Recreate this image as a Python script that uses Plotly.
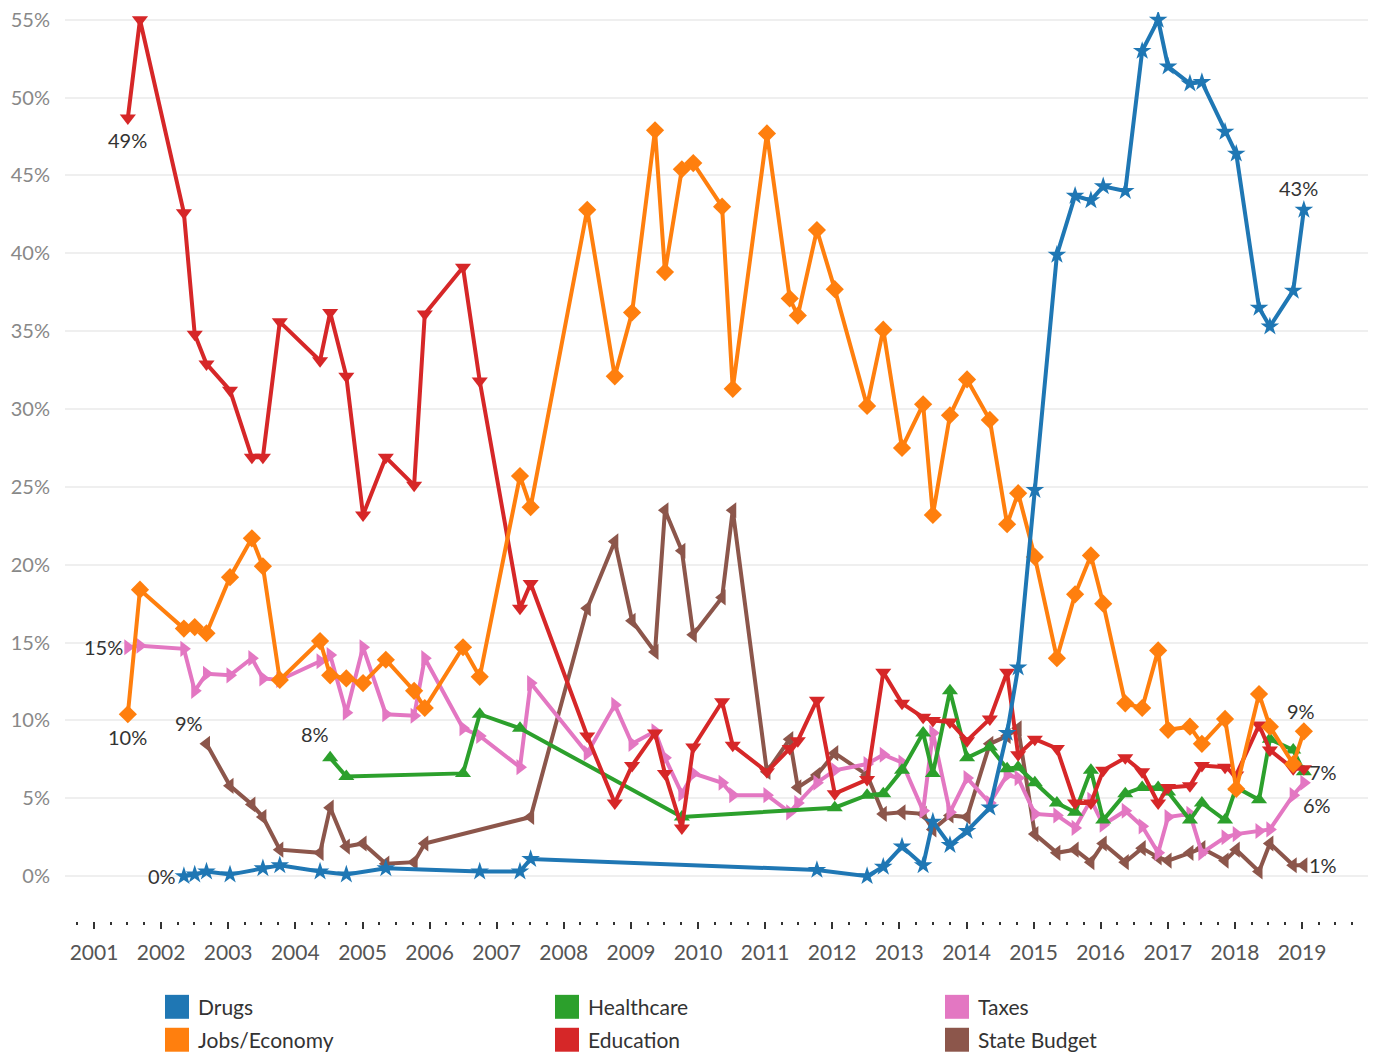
import math
import plotly.graph_objects as go

# poll dates (shared by all series, None where a topic was not reported)
poll_dates = [
    "2001-07-04", "2001-09-08", "2002-05-05", "2002-07-03", "2002-09-05",
    "2003-01-11", "2003-05-10", "2003-07-09", "2003-10-09",
    "2004-05-15", "2004-07-09", "2004-10-05",
    "2005-01-04", "2005-05-08", "2005-10-09", "2005-12-06",
    "2006-07-02", "2006-10-01",
    "2007-05-08", "2007-07-05",
    "2008-05-08", "2008-10-05",
    "2009-01-07", "2009-05-12", "2009-07-05", "2009-10-05", "2009-12-06",
    "2010-05-12", "2010-07-09",
    "2011-01-11", "2011-05-15", "2011-06-28", "2011-10-10",
    "2012-01-15", "2012-07-09", "2012-10-05",
    "2013-01-15", "2013-05-10", "2013-07-02", "2013-10-03",
    "2014-01-04", "2014-05-08", "2014-08-10", "2014-10-09",
    "2015-01-08", "2015-05-08", "2015-08-15", "2015-11-09",
    "2016-01-15", "2016-05-14", "2016-08-14", "2016-11-09",
    "2017-01-02", "2017-05-01", "2017-07-05", "2017-11-08",
    "2018-01-08", "2018-05-12", "2018-07-10", "2018-11-14",
    "2019-01-11",
]

drugs = [
    None, None, 0.0, 0.1, 0.3,
    0.1, None, 0.5, 0.7,
    0.3, None, 0.1,
    None, 0.5, None, None,
    None, 0.3,
    0.3, 1.1,
    None, None,
    None, None, None, None, None,
    None, None,
    None, None, None, 0.4,
    None, 0.0, 0.6,
    1.9, 0.7, 3.5, 2.0,
    2.9, 4.4, 9.2, 13.4,
    24.8, 39.9, 43.7, 43.4,
    44.3, 44.0, 53.0, 55.0,
    52.0, 50.9, 51.0, 47.8,
    46.4, 36.5, 35.3, 37.6,
    42.8,
]

jobs_economy = [
    10.4, 18.4, 15.9, 16.0, 15.6,
    19.2, 21.7, 19.9, 12.6,
    15.1, 12.9, 12.7,
    12.4, 13.9, 11.9, 10.8,
    14.7, 12.8,
    25.7, 23.7,
    42.8, 32.1,
    36.2, 47.9, 38.8, 45.4, 45.8,
    43.0, 31.3,
    47.7, 37.1, 36.0, 41.5,
    37.7, 30.2, 35.1,
    27.5, 30.3, 23.2, 29.6,
    31.9, 29.3, 22.6, 24.6,
    20.5, 14.0, 18.1, 20.6,
    17.5, 11.1, 10.8, 14.5,
    9.4, 9.6, 8.5, 10.1,
    5.6, 11.7, 9.6, 7.2,
    9.3,
]

healthcare = [
    None, None, None, None, None,
    None, None, None, None,
    None, 7.6, 6.4,
    None, None, None, None,
    6.6, 10.4,
    9.5, None,
    None, None,
    None, None, None, 3.8, None,
    None, None,
    None, None, None, None,
    4.4, 5.2, 5.3,
    6.8, 9.2, 6.6, 11.9,
    7.6, 8.3, 6.9, 7.0,
    6.0, 4.7, 4.1, 6.8,
    3.6, 5.3, 5.7, 5.7,
    5.4, 3.6, 4.7, 3.6,
    5.7, 4.9, 8.8, 8.1,
    6.7,
]

education = [
    48.7, 55.0, 42.6, 34.8, 32.9,
    31.2, 26.9, 26.9, 35.6,
    33.1, 36.2, 32.1,
    23.2, 26.9, 25.1, 36.1,
    39.1, 31.8,
    17.2, 18.8,
    9.0, 4.7,
    7.1, 9.2, 6.6, 3.1, 8.3,
    11.2, 8.4,
    6.7, 8.2, 8.7, 11.3,
    5.3, 6.2, 13.1,
    11.1, 10.2, 10.0, 9.9,
    8.7, 10.1, 13.1, 7.8,
    8.8, 8.2, 4.7, 4.7,
    6.8, 7.6, 6.7, 4.7,
    5.7, 5.8, 7.1, 7.0,
    6.5, 9.7, 8.1, 6.9,
    6.9,
]

taxes = [
    14.7, 14.8, 14.6, 11.9, 13.0,
    12.9, 14.0, 12.7, 12.6,
    13.8, 14.2, 10.5,
    14.7, 10.4, 10.3, 14.0,
    9.5, 9.0,
    7.0, 12.4,
    7.9, 11.0,
    8.5, 9.3, 7.6, 5.3, 6.6,
    6.0, 5.2,
    5.2, 4.1, 4.7, 6.0,
    6.8, 7.2, 7.8,
    7.3, 4.2, 9.2, 4.1,
    6.3, 4.7, 6.5, 6.3,
    4.0, 3.9, 3.1, 4.9,
    3.3, 4.2, 3.2, 1.5,
    3.8, 4.0, 1.5, 2.5,
    2.7, 2.9, 3.0, 5.2,
    6.0,
]

state_budget = [
    None, None, None, None, 8.5,
    5.8, 4.6, 3.8, 1.7,
    1.5, 4.4, 1.9,
    2.1, 0.8, 0.9, 2.1,
    None, None,
    None, 3.8,
    17.2, 21.5,
    16.4, 14.4, 23.5, 20.9, 15.5,
    17.9, 23.5,
    6.7, 8.8, 5.7, 6.5,
    7.9, 6.5, 4.0,
    4.1, 4.0, 3.0, 3.9,
    3.8, 8.5, 9.0, 9.5,
    2.7, 1.5, 1.7, 0.9,
    2.1, 0.9, 1.8, 1.2,
    1.0, 1.5, 1.8, 1.0,
    1.7, 0.3, 2.1, 0.7,
    0.7,
]

year_ticks = list(range(2001, 2020))
pct_ticks = list(range(0, 56, 5))

# name, values, colour, marker
topics = [
    ("Drugs", drugs, "#1f77b4", "star"),
    ("Jobs/Economy", jobs_economy, "#ff7f0e", "diamond"),
    ("Healthcare", healthcare, "#2ca02c", "triangle-up"),
    ("Education", education, "#d62728", "triangle-down"),
    ("Taxes", taxes, "#e377c2", "triangle-right"),
    ("State Budget", state_budget, "#8c564b", "triangle-left"),
]

W, H = 1375, 1055
L, R, T, B = 65, 7, 10, 134
FONT = "Lato"

fig = go.Figure()

draw_order = ["State Budget", "Taxes", "Healthcare", "Education", "Jobs/Economy", "Drugs"]
for nm in draw_order:
    name, vals, color, sym = [t for t in topics if t[0] == nm][0]
    fig.add_trace(go.Scatter(
        x=poll_dates, y=vals, name=name, mode="lines+markers",
        connectgaps=True, showlegend=False,
        line=dict(color=color, width=4),
        marker=dict(symbol=sym, size=14, color=color, line=dict(width=0)),
    ))


def pct(v):
    return f"{math.floor(v + 0.5)}%"


def first(vals):
    for d, v in zip(poll_dates, vals):
        if v is not None:
            return d, v


def last(vals):
    for d, v in reversed(list(zip(poll_dates, vals))):
        if v is not None:
            return d, v


lab_font = dict(family=FONT, size=20, color="#333333")
# (values, which end, xanchor, xshift, yshift)
labels = [
    (education, first, "center", 0, -22),
    (jobs_economy, first, "center", 0, -23),
    (taxes, first, "right", -3, 0),
    (state_budget, first, "center", -17, 21),
    (healthcare, first, "center", -15, 24),
    (drugs, first, "right", -6, 0),
    (drugs, last, "center", -5, 22),
    (jobs_economy, last, "center", -3, 20),
    (healthcare, last, "left", 3, 0),
    (taxes, last, "center", 13, -22),
    (state_budget, last, "left", 3, 0),
]
for vals, fn, xa, xs, ys in labels:
    d, v = fn(vals)
    fig.add_annotation(x=d, y=v, text=pct(v), showarrow=False, xanchor=xa,
                       yanchor="middle", xshift=xs, yshift=ys, font=lab_font)

# dotted zero line
fig.add_shape(type="line", xref="paper", x0=0, x1=1, yref="y", y0=0, y1=0,
              line=dict(color="white", width=2), layer="between")
fig.add_shape(type="line", xref="paper", x0=0, x1=1, yref="y", y0=0, y1=0,
              line=dict(color="#b8b8b8", width=1, dash="dot"), layer="between")

# legend drawn as colour squares + text, 3 columns x 2 rows
pw, ph = W - L - R, H - T - B
col_x = [165, 555, 945]
row_y = [1007, 1040]
leg_order = ["Drugs", "Jobs/Economy", "Healthcare", "Education", "Taxes", "State Budget"]
for i, nm in enumerate(leg_order):
    color = [t[2] for t in topics if t[0] == nm][0]
    cx, cy = col_x[i // 2], row_y[i % 2]
    fig.add_shape(type="rect", xref="paper", yref="paper",
                  x0=(cx - L) / pw, x1=(cx + 24 - L) / pw,
                  y0=(H - B - (cy - 12)) / ph, y1=(H - B - (cy + 12)) / ph,
                  fillcolor=color, line=dict(width=0))
    fig.add_annotation(xref="paper", yref="paper", x=(cx + 31 - L) / pw,
                       y=(H - B - cy) / ph, text=nm, showarrow=False,
                       xanchor="left", yanchor="middle",
                       font=dict(family=FONT, size=21, color="#333333"))

fig.update_layout(
    width=W, height=H,
    margin=dict(l=L, r=R, t=T, b=B),
    plot_bgcolor="white", paper_bgcolor="white",
    font=dict(family=FONT),
    hovermode=False,
    xaxis=dict(
        type="date", range=["2000-07-27", "2019-12-26"],
        tickvals=[f"{y}-01-01" for y in year_ticks],
        ticktext=[str(y) for y in year_ticks],
        ticks="outside", ticklen=7, tickwidth=2, tickcolor="#333333",
        ticklabelstandoff=6,
        showgrid=False, zeroline=False, showline=False,
        tickfont=dict(size=21, color="#555555"),
        minor=dict(dtick="M3", tick0="2001-01-01", ticks="outside", ticklen=3,
                   tickwidth=2, tickcolor="#333333", showgrid=False),
    ),
    yaxis=dict(
        range=[-2.88, 55.5], tickvals=pct_ticks,
        ticktext=[f"{v}%" for v in pct_ticks],
        showgrid=True, gridcolor="#efefef", gridwidth=1.5,
        zeroline=False, showline=False, ticks="",
        ticklabelstandoff=14,
        tickfont=dict(size=20, color="#888888"),
    ),
)

# page body has an 8px default margin; remove it so the figure sits at 0,0
fig.write_html("out.html", config={"displayModeBar": False},
               post_script="document.body.style.margin='0';")
